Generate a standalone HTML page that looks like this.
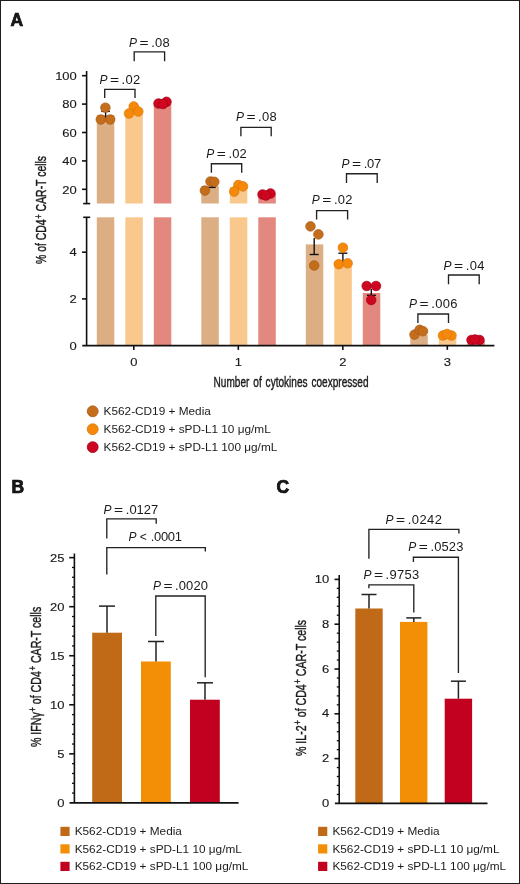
<!DOCTYPE html>
<html><head><meta charset="utf-8"><style>
html,body{margin:0;padding:0;background:#fff;}
body{width:520px;height:884px;overflow:hidden;position:relative;}
.frame{position:absolute;left:0;top:0;width:518px;height:882px;border:1px solid #1e1e1e;}
svg{position:absolute;left:0;top:0;will-change:transform;}
svg text{font-family:"Liberation Sans",sans-serif;fill:#1a1a1a;}
</style></head><body>
<div class="frame"></div>
<svg width="520" height="884" viewBox="0 0 520 884">
<g>
<line x1="86.6" y1="71" x2="86.6" y2="203.6" stroke="#111" stroke-width="1.6"/>
<line x1="83.2" y1="203.6" x2="90.2" y2="203.6" stroke="#111" stroke-width="1.6"/>
<line x1="86.6" y1="217.3" x2="86.6" y2="345.6" stroke="#111" stroke-width="1.6"/>
<line x1="83.2" y1="217.3" x2="90.2" y2="217.3" stroke="#111" stroke-width="1.6"/>
<line x1="82" y1="75.7" x2="86.6" y2="75.7" stroke="#111" stroke-width="1.6"/>
<line x1="82" y1="104.1" x2="86.6" y2="104.1" stroke="#111" stroke-width="1.6"/>
<line x1="82" y1="132.5" x2="86.6" y2="132.5" stroke="#111" stroke-width="1.6"/>
<line x1="82" y1="160.89999999999998" x2="86.6" y2="160.89999999999998" stroke="#111" stroke-width="1.6"/>
<line x1="82" y1="189.3" x2="86.6" y2="189.3" stroke="#111" stroke-width="1.6"/>
<line x1="82" y1="252.20000000000002" x2="86.6" y2="252.20000000000002" stroke="#111" stroke-width="1.6"/>
<line x1="82" y1="298.90000000000003" x2="86.6" y2="298.90000000000003" stroke="#111" stroke-width="1.6"/>
<text transform="translate(76.8,79.9) scale(1.1,1)" font-size="11.8" text-anchor="end" stroke="#1a1a1a" stroke-width="0.15">100</text>
<text transform="translate(76.8,108.3) scale(1.1,1)" font-size="11.8" text-anchor="end" stroke="#1a1a1a" stroke-width="0.15">80</text>
<text transform="translate(76.8,136.7) scale(1.1,1)" font-size="11.8" text-anchor="end" stroke="#1a1a1a" stroke-width="0.15">60</text>
<text transform="translate(76.8,165.09999999999997) scale(1.1,1)" font-size="11.8" text-anchor="end" stroke="#1a1a1a" stroke-width="0.15">40</text>
<text transform="translate(76.8,193.5) scale(1.1,1)" font-size="11.8" text-anchor="end" stroke="#1a1a1a" stroke-width="0.15">20</text>
<text transform="translate(76.8,256.40000000000003) scale(1.1,1)" font-size="11.8" text-anchor="end" stroke="#1a1a1a" stroke-width="0.15">4</text>
<text transform="translate(76.8,303.1) scale(1.1,1)" font-size="11.8" text-anchor="end" stroke="#1a1a1a" stroke-width="0.15">2</text>
<text transform="translate(76.8,349.8) scale(1.1,1)" font-size="11.8" text-anchor="end" stroke="#1a1a1a" stroke-width="0.15">0</text>
<rect x="96.80000000000001" y="115.0" width="17.5" height="88.5" fill="#DCAE84"/>
<rect x="96.80000000000001" y="217.3" width="17.5" height="128.3" fill="#DCAE84"/>
<rect x="125.30000000000001" y="111.0" width="17.5" height="92.5" fill="#F9C88C"/>
<rect x="125.30000000000001" y="217.3" width="17.5" height="128.3" fill="#F9C88C"/>
<rect x="153.8" y="103.6" width="17.5" height="99.9" fill="#E2887E"/>
<rect x="153.8" y="217.3" width="17.5" height="128.3" fill="#E2887E"/>
<rect x="201.3" y="186.0" width="17.5" height="17.5" fill="#DCAE84"/>
<rect x="201.3" y="217.3" width="17.5" height="128.3" fill="#DCAE84"/>
<rect x="229.8" y="187.0" width="17.5" height="16.5" fill="#F9C88C"/>
<rect x="229.8" y="217.3" width="17.5" height="128.3" fill="#F9C88C"/>
<rect x="258.3" y="194.0" width="17.5" height="9.5" fill="#E2887E"/>
<rect x="258.3" y="217.3" width="17.5" height="128.3" fill="#E2887E"/>
<rect x="305.8" y="244.4" width="17.5" height="101.20000000000002" fill="#DCAE84"/>
<rect x="334.3" y="261.0" width="17.5" height="84.60000000000002" fill="#F9C88C"/>
<rect x="362.8" y="293.0" width="17.5" height="52.60000000000002" fill="#E2887E"/>
<rect x="410.3" y="335.0" width="17.5" height="10.600000000000023" fill="#DCAE84"/>
<rect x="438.8" y="338.0" width="17.5" height="7.600000000000023" fill="#F9C88C"/>
<rect x="467.3" y="341.0" width="17.5" height="4.600000000000023" fill="#E2887E"/>
<line x1="105.6" y1="111.4" x2="105.6" y2="118" stroke="#111" stroke-width="1.4"/>
<line x1="101.3" y1="111.4" x2="109.9" y2="111.4" stroke="#111" stroke-width="1.4"/>
<line x1="212.2" y1="181" x2="212.2" y2="187.4" stroke="#111" stroke-width="1.4"/>
<line x1="208.7" y1="181" x2="215.7" y2="181" stroke="#111" stroke-width="1.4"/>
<line x1="208.7" y1="187.4" x2="215.7" y2="187.4" stroke="#111" stroke-width="1.4"/>
<line x1="314.2" y1="238" x2="314.2" y2="254.5" stroke="#111" stroke-width="1.4"/>
<line x1="309.7" y1="254.5" x2="318.7" y2="254.5" stroke="#111" stroke-width="1.4"/>
<line x1="342.9" y1="253.2" x2="342.9" y2="263" stroke="#111" stroke-width="1.4"/>
<line x1="338.4" y1="253.2" x2="347.4" y2="253.2" stroke="#111" stroke-width="1.4"/>
<line x1="338.4" y1="263" x2="347.4" y2="263" stroke="#111" stroke-width="1.4"/>
<line x1="371.3" y1="289" x2="371.3" y2="295.3" stroke="#111" stroke-width="1.4"/>
<line x1="366.9" y1="295.3" x2="375.9" y2="295.3" stroke="#111" stroke-width="1.4"/>
<circle cx="105.4" cy="107.7" r="4.8" fill="#C46E1C" stroke="#A65915" stroke-width="0.7"/>
<circle cx="100.8" cy="119.5" r="4.8" fill="#C46E1C" stroke="#A65915" stroke-width="0.7"/>
<circle cx="110.2" cy="119.5" r="4.8" fill="#C46E1C" stroke="#A65915" stroke-width="0.7"/>
<circle cx="133.7" cy="106.5" r="4.8" fill="#F7890A" stroke="#D97606" stroke-width="0.7"/>
<circle cx="129.0" cy="113.5" r="4.8" fill="#F7890A" stroke="#D97606" stroke-width="0.7"/>
<circle cx="138.3" cy="111.5" r="4.8" fill="#F7890A" stroke="#D97606" stroke-width="0.7"/>
<circle cx="158.5" cy="103.5" r="4.8" fill="#CE0620" stroke="#A50019" stroke-width="0.7"/>
<circle cx="166.5" cy="101.8" r="4.8" fill="#CE0620" stroke="#A50019" stroke-width="0.7"/>
<circle cx="163" cy="104" r="4.8" fill="#CE0620" stroke="#A50019" stroke-width="0.7"/>
<circle cx="210.5" cy="181.5" r="4.8" fill="#C46E1C" stroke="#A65915" stroke-width="0.7"/>
<circle cx="214.3" cy="181.8" r="4.8" fill="#C46E1C" stroke="#A65915" stroke-width="0.7"/>
<circle cx="204.9" cy="190.6" r="4.8" fill="#C46E1C" stroke="#A65915" stroke-width="0.7"/>
<circle cx="238.4" cy="185.0" r="4.8" fill="#F7890A" stroke="#D97606" stroke-width="0.7"/>
<circle cx="243.0" cy="186.4" r="4.8" fill="#F7890A" stroke="#D97606" stroke-width="0.7"/>
<circle cx="234.2" cy="191.6" r="4.8" fill="#F7890A" stroke="#D97606" stroke-width="0.7"/>
<circle cx="262.5" cy="194.5" r="4.8" fill="#CE0620" stroke="#A50019" stroke-width="0.7"/>
<circle cx="270.5" cy="193.5" r="4.8" fill="#CE0620" stroke="#A50019" stroke-width="0.7"/>
<circle cx="266" cy="195.5" r="4.8" fill="#CE0620" stroke="#A50019" stroke-width="0.7"/>
<circle cx="310.5" cy="226.4" r="4.8" fill="#C46E1C" stroke="#A65915" stroke-width="0.7"/>
<circle cx="318.4" cy="234.4" r="4.8" fill="#C46E1C" stroke="#A65915" stroke-width="0.7"/>
<circle cx="314.2" cy="265.5" r="4.8" fill="#C46E1C" stroke="#A65915" stroke-width="0.7"/>
<circle cx="342.9" cy="247.7" r="4.8" fill="#F7890A" stroke="#D97606" stroke-width="0.7"/>
<circle cx="338.8" cy="264.2" r="4.8" fill="#F7890A" stroke="#D97606" stroke-width="0.7"/>
<circle cx="347.6" cy="263.3" r="4.8" fill="#F7890A" stroke="#D97606" stroke-width="0.7"/>
<circle cx="366.7" cy="286.0" r="4.8" fill="#CE0620" stroke="#A50019" stroke-width="0.7"/>
<circle cx="376.0" cy="286.0" r="4.8" fill="#CE0620" stroke="#A50019" stroke-width="0.7"/>
<circle cx="371.2" cy="300.0" r="4.8" fill="#CE0620" stroke="#A50019" stroke-width="0.7"/>
<circle cx="414.5" cy="334.6" r="4.8" fill="#C46E1C" stroke="#A65915" stroke-width="0.7"/>
<circle cx="419.6" cy="329.8" r="4.8" fill="#C46E1C" stroke="#A65915" stroke-width="0.7"/>
<circle cx="423.0" cy="331.2" r="4.8" fill="#C46E1C" stroke="#A65915" stroke-width="0.7"/>
<circle cx="443" cy="335.5" r="4.8" fill="#F7890A" stroke="#D97606" stroke-width="0.7"/>
<circle cx="451.5" cy="335.5" r="4.8" fill="#F7890A" stroke="#D97606" stroke-width="0.7"/>
<circle cx="447" cy="334" r="4.8" fill="#F7890A" stroke="#D97606" stroke-width="0.7"/>
<circle cx="471.5" cy="340" r="4.8" fill="#CE0620" stroke="#A50019" stroke-width="0.7"/>
<circle cx="479.5" cy="340" r="4.8" fill="#CE0620" stroke="#A50019" stroke-width="0.7"/>
<circle cx="475" cy="339.5" r="4.8" fill="#CE0620" stroke="#A50019" stroke-width="0.7"/>
<line x1="82.3" y1="345.6" x2="494.4" y2="345.6" stroke="#111" stroke-width="1.7"/>
<line x1="133.8" y1="345.6" x2="133.8" y2="349.9" stroke="#111" stroke-width="1.6"/>
<line x1="238.3" y1="345.6" x2="238.3" y2="349.9" stroke="#111" stroke-width="1.6"/>
<line x1="342.8" y1="345.6" x2="342.8" y2="349.9" stroke="#111" stroke-width="1.6"/>
<line x1="447.3" y1="345.6" x2="447.3" y2="349.9" stroke="#111" stroke-width="1.6"/>
<text transform="translate(133.8,365.5) scale(1.1,1)" font-size="11.8" text-anchor="middle" stroke="#1a1a1a" stroke-width="0.15">0</text>
<text transform="translate(238.3,365.5) scale(1.1,1)" font-size="11.8" text-anchor="middle" stroke="#1a1a1a" stroke-width="0.15">1</text>
<text transform="translate(342.8,365.5) scale(1.1,1)" font-size="11.8" text-anchor="middle" stroke="#1a1a1a" stroke-width="0.15">2</text>
<text transform="translate(447.3,365.5) scale(1.1,1)" font-size="11.8" text-anchor="middle" stroke="#1a1a1a" stroke-width="0.15">3</text>
<polyline points="104.7,97.9 104.7,89.3 135.0,89.3 135.0,97.9" fill="none" stroke="#222" stroke-width="1.35"/>
<text x="99.4" y="83.6" font-size="12" font-style="italic">P</text>
<text transform="translate(109.9,83.6) scale(1.3,1)" font-size="12">=</text>
<text transform="translate(121.6,83.6) scale(1.08,1)" font-size="12" textLength="17.13" lengthAdjust="spacing">.02</text>
<polyline points="134.2,61.2 134.2,51.9 164.6,51.9 164.6,61.2" fill="none" stroke="#222" stroke-width="1.35"/>
<text x="129.1" y="46.5" font-size="12" font-style="italic">P</text>
<text transform="translate(139.6,46.5) scale(1.3,1)" font-size="12">=</text>
<text transform="translate(151.29999999999998,46.5) scale(1.08,1)" font-size="12" textLength="16.94" lengthAdjust="spacing">.08</text>
<polyline points="211.4,172.7 211.4,163.7 241.7,163.7 241.7,172.7" fill="none" stroke="#222" stroke-width="1.35"/>
<text x="206.20000000000002" y="157.5" font-size="12" font-style="italic">P</text>
<text transform="translate(216.70000000000002,157.5) scale(1.3,1)" font-size="12">=</text>
<text transform="translate(228.4,157.5) scale(1.08,1)" font-size="12" textLength="17.04" lengthAdjust="spacing">.02</text>
<polyline points="240.9,136.3 240.9,127.3 271.2,127.3 271.2,136.3" fill="none" stroke="#222" stroke-width="1.35"/>
<text x="235.9" y="121.1" font-size="12" font-style="italic">P</text>
<text transform="translate(246.4,121.1) scale(1.3,1)" font-size="12">=</text>
<text transform="translate(258.1,121.1) scale(1.08,1)" font-size="12" textLength="17.22" lengthAdjust="spacing">.08</text>
<polyline points="316.6,219.4 316.6,210.6 347.6,210.6 347.6,219.4" fill="none" stroke="#222" stroke-width="1.35"/>
<text x="311.79999999999995" y="204.4" font-size="12" font-style="italic">P</text>
<text transform="translate(322.29999999999995,204.4) scale(1.3,1)" font-size="12">=</text>
<text transform="translate(334.0,204.4) scale(1.08,1)" font-size="12" textLength="17.04" lengthAdjust="spacing">.02</text>
<polyline points="346.5,182.9 346.5,173.7 377.2,173.7 377.2,182.9" fill="none" stroke="#222" stroke-width="1.35"/>
<text x="341.5" y="168.3" font-size="12" font-style="italic">P</text>
<text transform="translate(352.0,168.3) scale(1.3,1)" font-size="12">=</text>
<text transform="translate(363.70000000000005,168.3) scale(1.08,1)" font-size="12" textLength="16.30" lengthAdjust="spacing">.07</text>
<polyline points="417.9,323.1 417.9,314.0 448.5,314.0 448.5,323.1" fill="none" stroke="#222" stroke-width="1.35"/>
<text x="409.0" y="308.1" font-size="12" font-style="italic">P</text>
<text transform="translate(419.5,308.1) scale(1.3,1)" font-size="12">=</text>
<text transform="translate(431.20000000000005,308.1) scale(1.08,1)" font-size="12" textLength="24.35" lengthAdjust="spacing">.006</text>
<polyline points="448.5,284.2 448.5,275.0 479.2,275.0 479.2,284.2" fill="none" stroke="#222" stroke-width="1.35"/>
<text x="443.59999999999997" y="269.6" font-size="12" font-style="italic">P</text>
<text transform="translate(454.09999999999997,269.6) scale(1.3,1)" font-size="12">=</text>
<text transform="translate(465.8,269.6) scale(1.08,1)" font-size="12" textLength="17.22" lengthAdjust="spacing">.04</text>
<text transform="translate(213.6,386.7) scale(0.695,1)" font-size="14.5" word-spacing="1.6" stroke="#1a1a1a" stroke-width="0.4">Number of cytokines coexpressed</text>
<text transform="translate(46.3,264) rotate(-90) scale(0.735,1)" font-size="14.2" stroke="#1a1a1a" stroke-width="0.4">% of CD4<tspan font-size="10.5" dx="0.8" dy="-4.8">+</tspan><tspan dy="4.8"> CAR-T cells</tspan></text>
<circle cx="92.7" cy="411.3" r="5.45" fill="#C46E1C" stroke="#A65915" stroke-width="0.8"/>
<circle cx="92.7" cy="429.2" r="5.45" fill="#F7890A" stroke="#D97606" stroke-width="0.8"/>
<circle cx="92.7" cy="447.1" r="5.45" fill="#CE0620" stroke="#A50019" stroke-width="0.8"/>
<text x="103.6" y="415.3" font-size="11.8" text-anchor="start" >K562-CD19 + Media</text>
<text x="103.6" y="433.0" font-size="11.8" text-anchor="start" >K562-CD19 + sPD-L1 10 &#956;g/mL</text>
<text x="103.6" y="450.7" font-size="11.8" text-anchor="start" >K562-CD19 + sPD-L1 100 &#956;g/mL</text>
</g>
<line x1="74.4" y1="553.5" x2="74.4" y2="802.9" stroke="#111" stroke-width="1.6"/>
<line x1="72.0" y1="793.09" x2="74.4" y2="793.09" stroke="#111" stroke-width="1.3"/>
<line x1="72.0" y1="783.28" x2="74.4" y2="783.28" stroke="#111" stroke-width="1.3"/>
<line x1="72.0" y1="773.47" x2="74.4" y2="773.47" stroke="#111" stroke-width="1.3"/>
<line x1="72.0" y1="763.66" x2="74.4" y2="763.66" stroke="#111" stroke-width="1.3"/>
<line x1="69.2" y1="753.85" x2="74.4" y2="753.85" stroke="#111" stroke-width="1.6"/>
<line x1="72.0" y1="744.04" x2="74.4" y2="744.04" stroke="#111" stroke-width="1.3"/>
<line x1="72.0" y1="734.23" x2="74.4" y2="734.23" stroke="#111" stroke-width="1.3"/>
<line x1="72.0" y1="724.42" x2="74.4" y2="724.42" stroke="#111" stroke-width="1.3"/>
<line x1="72.0" y1="714.61" x2="74.4" y2="714.61" stroke="#111" stroke-width="1.3"/>
<line x1="69.2" y1="704.8" x2="74.4" y2="704.8" stroke="#111" stroke-width="1.6"/>
<line x1="72.0" y1="694.99" x2="74.4" y2="694.99" stroke="#111" stroke-width="1.3"/>
<line x1="72.0" y1="685.18" x2="74.4" y2="685.18" stroke="#111" stroke-width="1.3"/>
<line x1="72.0" y1="675.37" x2="74.4" y2="675.37" stroke="#111" stroke-width="1.3"/>
<line x1="72.0" y1="665.56" x2="74.4" y2="665.56" stroke="#111" stroke-width="1.3"/>
<line x1="69.2" y1="655.75" x2="74.4" y2="655.75" stroke="#111" stroke-width="1.6"/>
<line x1="72.0" y1="645.9399999999999" x2="74.4" y2="645.9399999999999" stroke="#111" stroke-width="1.3"/>
<line x1="72.0" y1="636.13" x2="74.4" y2="636.13" stroke="#111" stroke-width="1.3"/>
<line x1="72.0" y1="626.3199999999999" x2="74.4" y2="626.3199999999999" stroke="#111" stroke-width="1.3"/>
<line x1="72.0" y1="616.51" x2="74.4" y2="616.51" stroke="#111" stroke-width="1.3"/>
<line x1="69.2" y1="606.6999999999999" x2="74.4" y2="606.6999999999999" stroke="#111" stroke-width="1.6"/>
<line x1="72.0" y1="596.89" x2="74.4" y2="596.89" stroke="#111" stroke-width="1.3"/>
<line x1="72.0" y1="587.0799999999999" x2="74.4" y2="587.0799999999999" stroke="#111" stroke-width="1.3"/>
<line x1="72.0" y1="577.27" x2="74.4" y2="577.27" stroke="#111" stroke-width="1.3"/>
<line x1="72.0" y1="567.46" x2="74.4" y2="567.46" stroke="#111" stroke-width="1.3"/>
<line x1="69.2" y1="557.65" x2="74.4" y2="557.65" stroke="#111" stroke-width="1.6"/>
<text transform="translate(64.4,561.85) scale(1.1,1)" font-size="11.8" text-anchor="end" stroke="#1a1a1a" stroke-width="0.15">25</text>
<text transform="translate(64.4,610.9) scale(1.1,1)" font-size="11.8" text-anchor="end" stroke="#1a1a1a" stroke-width="0.15">20</text>
<text transform="translate(64.4,659.95) scale(1.1,1)" font-size="11.8" text-anchor="end" stroke="#1a1a1a" stroke-width="0.15">15</text>
<text transform="translate(64.4,709.0) scale(1.1,1)" font-size="11.8" text-anchor="end" stroke="#1a1a1a" stroke-width="0.15">10</text>
<text transform="translate(64.4,758.0500000000001) scale(1.1,1)" font-size="11.8" text-anchor="end" stroke="#1a1a1a" stroke-width="0.15">5</text>
<text transform="translate(64.4,807.1) scale(1.1,1)" font-size="11.8" text-anchor="end" stroke="#1a1a1a" stroke-width="0.15">0</text>
<rect x="92.2" y="632.7" width="29.8" height="170.19999999999993" fill="#C06A18"/>
<line x1="107.0" y1="632.7" x2="107.0" y2="606.1" stroke="#222" stroke-width="1.5"/>
<line x1="99.0" y1="606.1" x2="115.0" y2="606.1" stroke="#222" stroke-width="1.5"/>
<rect x="141.0" y="661.5" width="29.8" height="141.39999999999998" fill="#F38E07"/>
<line x1="156.0" y1="661.5" x2="156.0" y2="641.5" stroke="#222" stroke-width="1.5"/>
<line x1="148.0" y1="641.5" x2="164.0" y2="641.5" stroke="#222" stroke-width="1.5"/>
<rect x="190.0" y="699.7" width="29.8" height="103.19999999999993" fill="#C2001F"/>
<line x1="205.0" y1="699.7" x2="205.0" y2="682.8" stroke="#222" stroke-width="1.5"/>
<line x1="197.0" y1="682.8" x2="213.0" y2="682.8" stroke="#222" stroke-width="1.5"/>
<line x1="69.5" y1="802.9" x2="238.6" y2="802.9" stroke="#111" stroke-width="1.7"/>
<polyline points="106.8,538.5 106.8,518.8 156.2,518.8 156.2,523.8" fill="none" stroke="#222" stroke-width="1.35"/>
<text x="103.60000000000001" y="513.5" font-size="12" font-style="italic">P</text>
<text transform="translate(114.10000000000001,513.5) scale(1.3,1)" font-size="12">=</text>
<text transform="translate(125.80000000000001,513.5) scale(1.08,1)" font-size="12" textLength="30.00" lengthAdjust="spacing">.0127</text>
<polyline points="106.8,574.6 106.8,547.6 205.3,547.6 205.3,551.5" fill="none" stroke="#222" stroke-width="1.35"/>
<text x="128.6" y="540.7" font-size="12" font-style="italic">P</text>
<text x="139.79999999999998" y="540.7" font-size="12">&lt;</text>
<text transform="translate(150.79999999999998,540.7) scale(1.08,1)" font-size="12" textLength="28.80" lengthAdjust="spacing">.0001</text>
<polyline points="155.8,636.1 155.8,596.0 205.2,596.0 205.2,677.3" fill="none" stroke="#222" stroke-width="1.35"/>
<text x="152.9" y="590.4" font-size="12" font-style="italic">P</text>
<text transform="translate(163.4,590.4) scale(1.3,1)" font-size="12">=</text>
<text transform="translate(175.1,590.4) scale(1.08,1)" font-size="12" textLength="30.37" lengthAdjust="spacing">.0020</text>
<text transform="translate(41.2,747) rotate(-90) scale(0.747,1)" font-size="14.2" stroke="#1a1a1a" stroke-width="0.4">% IFN&#947;<tspan font-size="10.5" dx="0.8" dy="-4.8">+</tspan><tspan dy="4.8"> of CD4</tspan><tspan font-size="10.5" dx="0.8" dy="-4.8">+</tspan><tspan dy="4.8"> CAR-T cells</tspan></text>
<rect x="60.4" y="826.8" width="9.2" height="9.2" fill="#C06A18"/>
<text x="74.7" y="835.3" font-size="11.8" text-anchor="start" >K562-CD19 + Media</text>
<rect x="60.4" y="844.3" width="9.2" height="9.2" fill="#F38E07"/>
<text x="74.7" y="852.8" font-size="11.8" text-anchor="start" >K562-CD19 + sPD-L1 10 &#956;g/mL</text>
<rect x="60.4" y="861.8" width="9.2" height="9.2" fill="#C2001F"/>
<text x="74.7" y="870.3" font-size="11.8" text-anchor="start" >K562-CD19 + sPD-L1 100 &#956;g/mL</text>
<line x1="339.2" y1="575" x2="339.2" y2="803.4" stroke="#111" stroke-width="1.6"/>
<line x1="336.8" y1="794.4399999999999" x2="339.2" y2="794.4399999999999" stroke="#111" stroke-width="1.3"/>
<line x1="336.8" y1="785.48" x2="339.2" y2="785.48" stroke="#111" stroke-width="1.3"/>
<line x1="336.8" y1="776.52" x2="339.2" y2="776.52" stroke="#111" stroke-width="1.3"/>
<line x1="336.8" y1="767.56" x2="339.2" y2="767.56" stroke="#111" stroke-width="1.3"/>
<line x1="334.5" y1="758.6" x2="339.2" y2="758.6" stroke="#111" stroke-width="1.6"/>
<line x1="336.8" y1="749.64" x2="339.2" y2="749.64" stroke="#111" stroke-width="1.3"/>
<line x1="336.8" y1="740.68" x2="339.2" y2="740.68" stroke="#111" stroke-width="1.3"/>
<line x1="336.8" y1="731.72" x2="339.2" y2="731.72" stroke="#111" stroke-width="1.3"/>
<line x1="336.8" y1="722.76" x2="339.2" y2="722.76" stroke="#111" stroke-width="1.3"/>
<line x1="334.5" y1="713.8" x2="339.2" y2="713.8" stroke="#111" stroke-width="1.6"/>
<line x1="336.8" y1="704.8399999999999" x2="339.2" y2="704.8399999999999" stroke="#111" stroke-width="1.3"/>
<line x1="336.8" y1="695.88" x2="339.2" y2="695.88" stroke="#111" stroke-width="1.3"/>
<line x1="336.8" y1="686.92" x2="339.2" y2="686.92" stroke="#111" stroke-width="1.3"/>
<line x1="336.8" y1="677.96" x2="339.2" y2="677.96" stroke="#111" stroke-width="1.3"/>
<line x1="334.5" y1="669.0" x2="339.2" y2="669.0" stroke="#111" stroke-width="1.6"/>
<line x1="336.8" y1="660.04" x2="339.2" y2="660.04" stroke="#111" stroke-width="1.3"/>
<line x1="336.8" y1="651.0799999999999" x2="339.2" y2="651.0799999999999" stroke="#111" stroke-width="1.3"/>
<line x1="336.8" y1="642.12" x2="339.2" y2="642.12" stroke="#111" stroke-width="1.3"/>
<line x1="336.8" y1="633.16" x2="339.2" y2="633.16" stroke="#111" stroke-width="1.3"/>
<line x1="334.5" y1="624.2" x2="339.2" y2="624.2" stroke="#111" stroke-width="1.6"/>
<line x1="336.8" y1="615.24" x2="339.2" y2="615.24" stroke="#111" stroke-width="1.3"/>
<line x1="336.8" y1="606.28" x2="339.2" y2="606.28" stroke="#111" stroke-width="1.3"/>
<line x1="336.8" y1="597.3199999999999" x2="339.2" y2="597.3199999999999" stroke="#111" stroke-width="1.3"/>
<line x1="336.8" y1="588.3599999999999" x2="339.2" y2="588.3599999999999" stroke="#111" stroke-width="1.3"/>
<line x1="334.5" y1="579.4" x2="339.2" y2="579.4" stroke="#111" stroke-width="1.6"/>
<text transform="translate(329.2,583.0) scale(1.1,1)" font-size="11.8" text-anchor="end" stroke="#1a1a1a" stroke-width="0.15">10</text>
<text transform="translate(329.2,627.8000000000001) scale(1.1,1)" font-size="11.8" text-anchor="end" stroke="#1a1a1a" stroke-width="0.15">8</text>
<text transform="translate(329.2,672.6) scale(1.1,1)" font-size="11.8" text-anchor="end" stroke="#1a1a1a" stroke-width="0.15">6</text>
<text transform="translate(329.2,717.4) scale(1.1,1)" font-size="11.8" text-anchor="end" stroke="#1a1a1a" stroke-width="0.15">4</text>
<text transform="translate(329.2,762.2) scale(1.1,1)" font-size="11.8" text-anchor="end" stroke="#1a1a1a" stroke-width="0.15">2</text>
<text transform="translate(329.2,807.0) scale(1.1,1)" font-size="11.8" text-anchor="end" stroke="#1a1a1a" stroke-width="0.15">0</text>
<rect x="355.3" y="608.5" width="27.4" height="194.89999999999998" fill="#C06A18"/>
<line x1="369.0" y1="608.5" x2="369.0" y2="594.5" stroke="#222" stroke-width="1.5"/>
<line x1="361.5" y1="594.5" x2="376.5" y2="594.5" stroke="#222" stroke-width="1.5"/>
<rect x="400.0" y="621.9" width="27.4" height="181.5" fill="#F38E07"/>
<line x1="413.8" y1="621.9" x2="413.8" y2="617.9" stroke="#222" stroke-width="1.5"/>
<line x1="406.3" y1="617.9" x2="421.3" y2="617.9" stroke="#222" stroke-width="1.5"/>
<rect x="444.7" y="698.7" width="27.4" height="104.69999999999993" fill="#C2001F"/>
<line x1="458.4" y1="698.7" x2="458.4" y2="681.2" stroke="#222" stroke-width="1.5"/>
<line x1="450.9" y1="681.2" x2="465.9" y2="681.2" stroke="#222" stroke-width="1.5"/>
<line x1="334.9" y1="803.4" x2="487.5" y2="803.4" stroke="#111" stroke-width="1.7"/>
<polyline points="368.9,588.3 368.9,584.8 413.8,584.8 413.8,612.5" fill="none" stroke="#222" stroke-width="1.35"/>
<text x="363.4" y="578.6" font-size="12" font-style="italic">P</text>
<text transform="translate(373.9,578.6) scale(1.3,1)" font-size="12">=</text>
<text transform="translate(385.6,578.6) scale(1.08,1)" font-size="12" textLength="31.02" lengthAdjust="spacing">.9753</text>
<polyline points="368.9,558.8 368.9,529.3 458.9,529.3 458.9,533.5" fill="none" stroke="#222" stroke-width="1.35"/>
<text x="385.59999999999997" y="523.8" font-size="12" font-style="italic">P</text>
<text transform="translate(396.09999999999997,523.8) scale(1.3,1)" font-size="12">=</text>
<text transform="translate(407.8,523.8) scale(1.08,1)" font-size="12" textLength="31.57" lengthAdjust="spacing">.0242</text>
<polyline points="413.4,561.9 413.4,557.2 458.4,557.2 458.4,673.1" fill="none" stroke="#222" stroke-width="1.35"/>
<text x="408.2" y="551.2" font-size="12" font-style="italic">P</text>
<text transform="translate(418.7,551.2) scale(1.3,1)" font-size="12">=</text>
<text transform="translate(430.40000000000003,551.2) scale(1.08,1)" font-size="12" textLength="30.56" lengthAdjust="spacing">.0523</text>
<text transform="translate(306.2,756) rotate(-90) scale(0.747,1)" font-size="14.2" stroke="#1a1a1a" stroke-width="0.4">% IL-2<tspan font-size="10.5" dx="0.8" dy="-4.8">+</tspan><tspan dy="4.8"> of CD4</tspan><tspan font-size="10.5" dx="0.8" dy="-4.8">+</tspan><tspan dy="4.8"> CAR-T cells</tspan></text>
<rect x="318.1" y="826.8" width="9.2" height="9.2" fill="#C06A18"/>
<text x="332.4" y="835.3" font-size="11.8" text-anchor="start" >K562-CD19 + Media</text>
<rect x="318.1" y="844.3" width="9.2" height="9.2" fill="#F38E07"/>
<text x="332.4" y="852.8" font-size="11.8" text-anchor="start" >K562-CD19 + sPD-L1 10 &#956;g/mL</text>
<rect x="318.1" y="861.8" width="9.2" height="9.2" fill="#C2001F"/>
<text x="332.4" y="870.3" font-size="11.8" text-anchor="start" >K562-CD19 + sPD-L1 100 &#956;g/mL</text>
<text x="10.6" y="25.8" font-size="17.5" font-weight="bold" stroke="#000" stroke-width="0.7">A</text>
<text x="11.4" y="492.9" font-size="17.5" font-weight="bold" stroke="#000" stroke-width="0.7">B</text>
<text x="276.4" y="492.9" font-size="17.5" font-weight="bold" stroke="#000" stroke-width="0.7">C</text>
</svg>
</body></html>
